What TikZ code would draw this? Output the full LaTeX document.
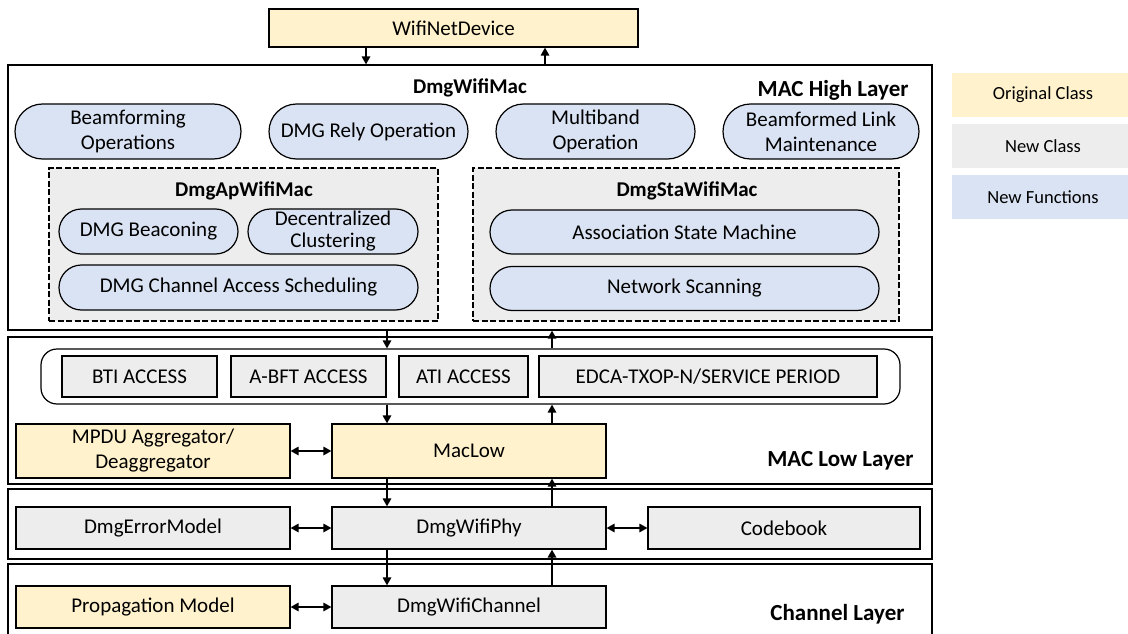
\documentclass[tikz,border=0pt]{standalone}
\usepackage{fontspec}
\setmainfont{Carlito}
\usepackage{tikz}
\usetikzlibrary{shapes.misc,arrows.meta,positioning}
\definecolor{origc}{HTML}{FFF2CC}
\definecolor{newc}{HTML}{EDEDED}
\definecolor{newf}{HTML}{DAE3F3}
\tikzset{
	layer/.style={draw,line width=1.2pt,inner sep=0pt,minimum width=924pt},
	cls/.style={draw,line width=1.2pt,inner sep=0pt,minimum height=42pt,align=center,font=\fontsize{21}{25}\selectfont},
	orig/.style={cls,fill=origc},
	newcls/.style={cls,fill=newc},
	func/.style={rounded rectangle,draw,line width=1.2pt,fill=newf,inner sep=0pt,minimum height=45pt,align=center,font=\fontsize{21}{25}\selectfont},
	subbox/.style={draw,line width=1.1pt,dash pattern=on 6pt off 2.5pt,fill=newc,inner sep=0pt,minimum height=153pt},
	title/.style={font=\bfseries\fontsize{21}{25}\selectfont},
	laytitle/.style={anchor=east,font=\bfseries\fontsize{23}{27}\selectfont},
	legend/.style={inner sep=0pt,minimum width=182pt,minimum height=44pt,font=\fontsize{18.5}{22}\selectfont},
	arr/.style={line width=1.4pt,-{Triangle[length=8pt,width=8.5pt]}},
	biarr/.style={line width=1.4pt,{Triangle[length=8pt,width=8.5pt]}-{Triangle[length=8pt,width=8.5pt]}}
}
\begin{document}
\begin{tikzpicture}[x=1pt,y=-1pt]
\useasboundingbox (0,0) rectangle (1128,634);
\clip (0,0) rectangle (1128,634);
% layers
\node[layer,minimum height=265pt] (high) at (470,197.5) {};
\node[layer,minimum height=147pt] (low) at (470,410.5) {};
\node[layer,minimum height=70pt] (phyl) at (470,524) {};
\node[layer,minimum height=90pt] (chl) at (470,609) {};
\node[laytitle] at (912,90) {MAC High Layer};
\node[laytitle] at (917,461) {MAC Low Layer};
\node[laytitle] at (908,614) {Channel Layer};
% top
\node[orig,minimum width=369pt,minimum height=38pt] (wnd) at (453.5,28) {WifiNetDevice};
\node[title] at (470,88) {DmgWifiMac};
\node[func,minimum width=226pt,minimum height=55pt] (bfop) at (128,131.5) {Beamforming\\Operations};
\node[func,minimum width=199pt,minimum height=55pt] (rely) at (368.5,131.5) {DMG Rely Operation};
\node[func,minimum width=199pt,minimum height=55pt] (multi) at (595.5,131.5) {Multiband\\Operation};
\node[func,minimum width=196pt,minimum height=55pt] (bflm) at (821,131.5) {Beamformed Link\\Maintenance};
% ap / sta
\node[subbox,minimum width=389pt] (ap) at (243.5,244.5) {};
\node[subbox,minimum width=426pt] (sta) at (686,244.5) {};
\node[title] at (244,191) {DmgApWifiMac};
\node[title] at (687,191) {DmgStaWifiMac};
\node[func,minimum width=179pt] (beacon) at (148.5,231.5) {DMG Beaconing};
\node[func,minimum width=170pt] (declu) at (333,231.5) {Decentralized\\[-3pt]Clustering};
\node[func,minimum width=359pt] (cas) at (238.5,287.5) {DMG Channel Access Scheduling};
\node[func,minimum width=389pt,minimum height=44pt] (asm) at (684.5,232) {Association State Machine};
\node[func,minimum width=389pt,minimum height=44pt] (scan) at (684.5,288.5) {Network Scanning};
% access periods
\node[draw,line width=1.2pt,rounded corners=16pt,minimum width=859pt,minimum height=55pt] (bus) at (470.5,376.5) {};
\node[newcls,minimum width=155pt,minimum height=41pt] (bti) at (139.5,376.5) {BTI ACCESS};
\node[newcls,minimum width=155pt,minimum height=41pt] (abft) at (308.5,376.5) {A-BFT ACCESS};
\node[newcls,minimum width=129pt,minimum height=41pt] (ati) at (463.5,376.5) {ATI ACCESS};
\node[newcls,minimum width=338pt,minimum height=41pt] (edca) at (708,376.5) {EDCA-TXOP-N/SERVICE PERIOD};
% classes
\node[orig,minimum width=274pt,minimum height=54pt] (mpdu) at (153,451) {MPDU Aggregator/\\Deaggregator};
\node[orig,minimum width=274pt,minimum height=54pt] (maclow) at (469,451) {MacLow};
\node[newcls,minimum width=274pt] (err) at (153,528) {DmgErrorModel};
\node[newcls,minimum width=274pt] (phy) at (469,528) {DmgWifiPhy};
\node[newcls,minimum width=272pt] (cb) at (784,528) {Codebook};
\node[orig,minimum width=274pt] (prop) at (153,607) {Propagation Model};
\node[newcls,minimum width=274pt] (chan) at (469,607) {DmgWifiChannel};
% legend
\foreach \y/\c/\t in {95/origc/Original Class,146/newc/New Class,197/newf/New Functions}
	\node[legend,fill=\c] at (1043,\y) {\t};
% connectors
\coordinate (dntop) at (366,0);
\coordinate (uptop) at (545,0);
\coordinate (dn) at (387,0);
\coordinate (up) at (552,0);
\draw[arr] (wnd.south -| dntop) -- (high.north -| dntop);
\draw[arr] (high.north -| uptop) -- (wnd.south -| uptop);
\foreach \a/\b in {high/bus,bus/maclow,maclow/phy,phy/chan} {
	\draw[arr] (\a.south -| dn) -- (\b.north -| dn);
	\draw[arr] (\b.north -| up) -- (\a.south -| up);
}
\foreach \a/\b in {mpdu/maclow,err/phy,phy/cb,prop/chan}
	\draw[biarr] (\a.east) -- (\b.west);
\end{tikzpicture}
\end{document}
